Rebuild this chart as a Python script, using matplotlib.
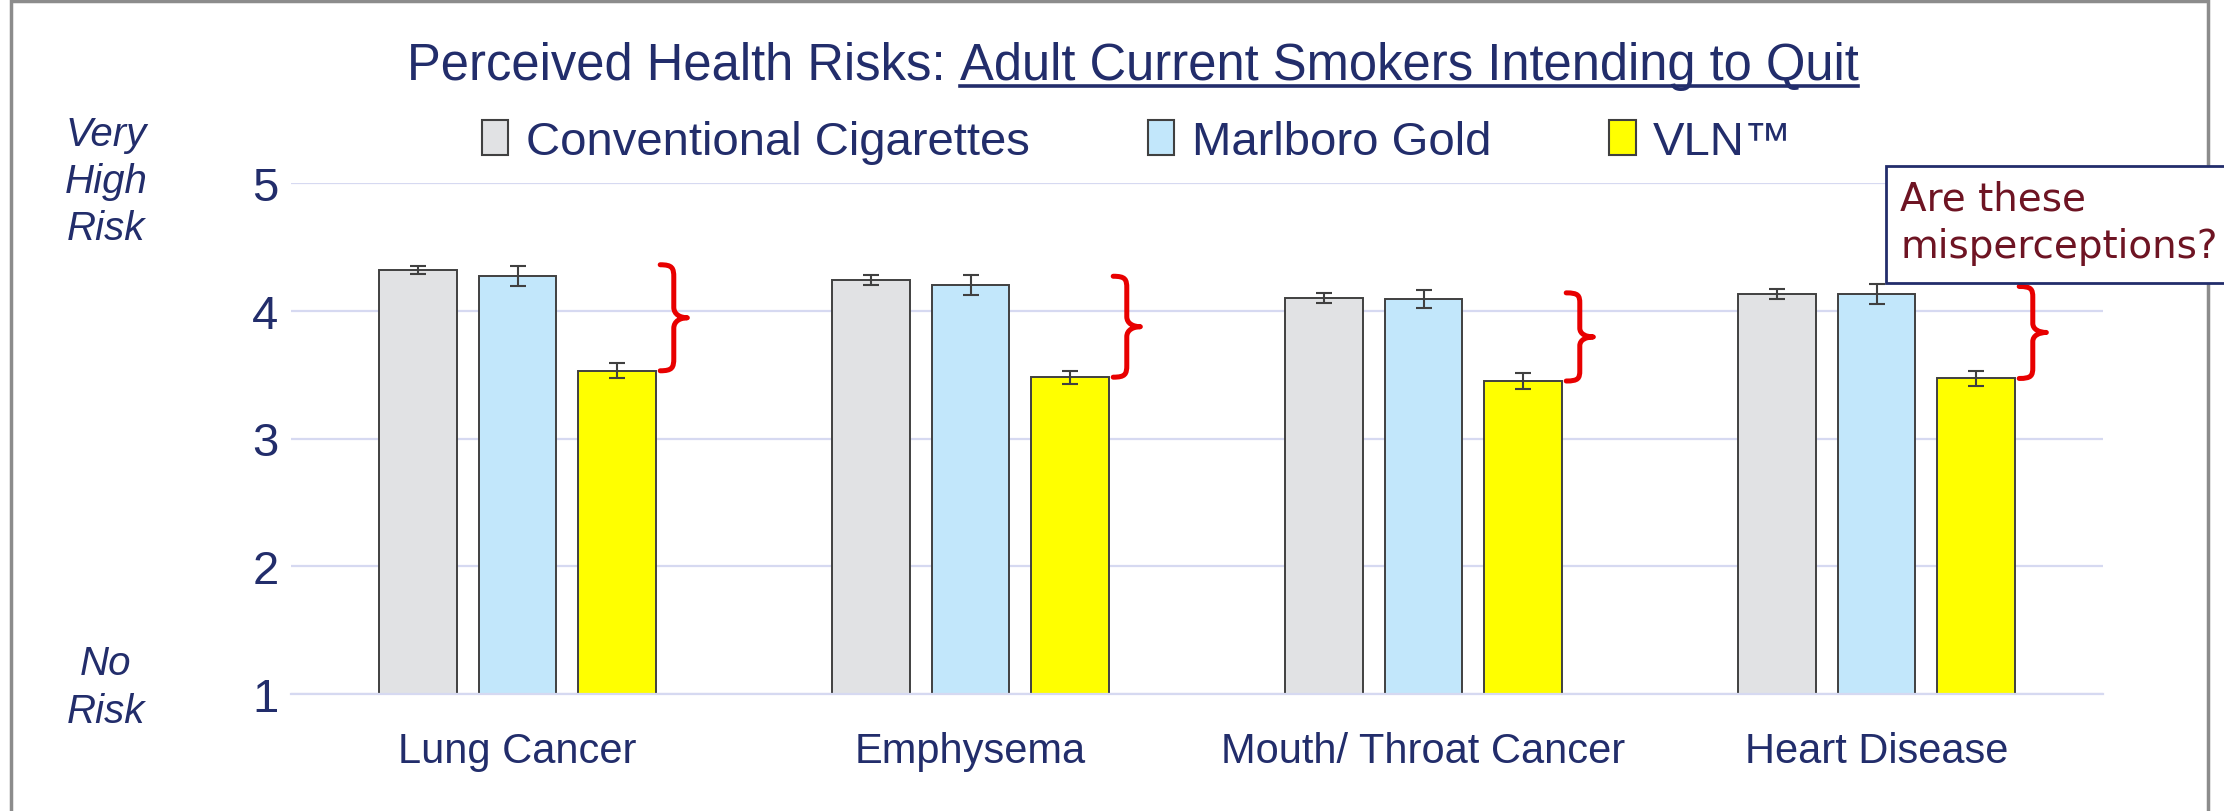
import matplotlib
matplotlib.use('Agg')
import matplotlib.pyplot as plt
from matplotlib.patches import Rectangle, PathPatch, Patch
from matplotlib.path import Path
from matplotlib.lines import Line2D
import numpy as np

plt.rcParams['font.family'] = ['Liberation Sans', 'DejaVu Sans']

# ---------------- data ----------------
categories = ['Lung Cancer', 'Emphysema', 'Mouth/ Throat Cancer', 'Heart Disease']
series_names = ['Conventional Cigarettes', 'Marlboro Gold', 'VLN\u2122']
conventional = [4.32, 4.24, 4.10, 4.13]
marlboro_gold = [4.27, 4.20, 4.09, 4.13]
vln = [3.53, 3.48, 3.45, 3.47]
conventional_err = [0.03, 0.04, 0.04, 0.04]
marlboro_gold_err = [0.08, 0.08, 0.07, 0.08]
vln_err = [0.06, 0.05, 0.06, 0.06]
brace_top = [4.36, 4.27, 4.14, 4.19]
y_ticks = [1, 2, 3, 4, 5]
title_plain = 'Perceived Health Risks:'
title_underlined = 'Adult Current Smokers Intending to Quit'
callout_text = 'Are these\nmisperceptions?'

# ---------------- style ----------------
navy = '#222D6B'
colors = ['#E1E2E4', '#C2E7FB', '#FFFF00']
edge = '#404040'
grid_c = '#D6D9F1'

W, H, DPI = 2224, 812, 100
fig = plt.figure(figsize=(W / DPI, H / DPI), dpi=DPI)
fig.patch.set_facecolor('white')

# slide frame
fig.add_artist(Rectangle((0.005, -0.1), 0.988, 1.097, transform=fig.transFigure,
                         fill=False, edgecolor='#8C8C8C', lw=2.5, zorder=0))

ax = fig.add_axes([291 / W, 1 - 695 / H, (2103 - 291) / W, (695 - 184) / H])
ax.set_xlim(-0.5, 3.5)
ax.set_ylim(1, 5)
for s in ax.spines.values():
    s.set_visible(False)
ax.set_yticks(y_ticks)
ax.yaxis.grid(True, color=grid_c, lw=1.6)
ax.set_axisbelow(True)
ax.axhline(1, color=grid_c, lw=1.6, zorder=5, clip_on=False)
ax.tick_params(axis='y', length=0, pad=9, labelsize=34, labelcolor=navy)
ax.set_xticks(range(len(categories)))
ax.set_xticklabels(categories)
ax.tick_params(axis='x', length=0, pad=27, labelsize=30, labelcolor=navy)

x = np.arange(len(categories))
offsets = [-0.219, 0.0, 0.219]
width = 0.172
series = [conventional, marlboro_gold, vln]
errs = [conventional_err, marlboro_gold_err, vln_err]
for off, vals, err, c in zip(offsets, series, errs, colors):
    ax.bar(x + off, vals, width=width, color=c, edgecolor=edge, linewidth=1.4, zorder=2)
    ax.errorbar(x + off, vals, yerr=err, fmt='none', ecolor=edge, elinewidth=1.5,
                capsize=6, capthick=1.5, zorder=3)

# braces
def brace(x0, ybot, ytop, w):
    h = ytop - ybot
    ym = (ytop + ybot) / 2
    xm = x0 + 0.5 * w
    verts = [
        (x0, ytop),
        (x0 + 0.45 * w, ytop), (xm, ytop - 0.03 * h), (xm, ytop - 0.12 * h),
        (xm, ym + 0.1 * h),
        (xm, ym + 0.03 * h), (x0 + 0.75 * w, ym), (x0 + w, ym),
        (x0 + 0.75 * w, ym), (xm, ym - 0.03 * h), (xm, ym - 0.1 * h),
        (xm, ybot + 0.12 * h),
        (xm, ybot + 0.03 * h), (x0 + 0.45 * w, ybot), (x0, ybot),
    ]
    codes = [Path.MOVETO,
             Path.CURVE4, Path.CURVE4, Path.CURVE4,
             Path.LINETO,
             Path.CURVE4, Path.CURVE4, Path.CURVE4,
             Path.CURVE4, Path.CURVE4, Path.CURVE4,
             Path.LINETO,
             Path.CURVE4, Path.CURVE4, Path.CURVE4]
    return PathPatch(Path(verts, codes), fill=False, edgecolor='#E80000', lw=3.6,
                     capstyle='round', joinstyle='round', zorder=4, clip_on=False)

for i in range(len(categories)):
    ax.add_patch(brace(x[i] + 0.315, vln[i], brace_top[i], 0.06))

# legend
handles = [Patch(facecolor=c, edgecolor=edge, linewidth=1.5) for c in colors]
fig.legend(handles, series_names, loc='center left', bbox_to_anchor=(482 / W, 1 - 143 / H),
           ncol=3, frameon=False, fontsize=34, labelcolor=navy, handlelength=0.56,
           handleheight=0.77, handletextpad=0.37, columnspacing=2.5, borderpad=0,
           borderaxespad=0)

# side labels
fig.text(106 / W, 1 - 182 / H, 'Very\nHigh\nRisk', ha='center', va='center',
         fontsize=29, style='italic', color=navy, linespacing=1.3)
fig.text(106 / W, 1 - 688 / H, 'No\nRisk', ha='center', va='center',
         fontsize=29, style='italic', color=navy, linespacing=1.35)

# title with underlined part
base_y = 1 - 80 / H
fs_title = 36.5
t1 = fig.text(407 / W, base_y, title_plain, fontsize=fs_title, color=navy, ha='left', va='baseline')
fig.canvas.draw()
r = fig.canvas.get_renderer()
bb1 = t1.get_window_extent(r)
space_px = fs_title * DPI / 72 * 0.278
t2 = fig.text((bb1.x1 + space_px) / W, base_y, title_underlined, fontsize=fs_title, color=navy,
              ha='left', va='baseline')
fig.canvas.draw()
bb2 = t2.get_window_extent(r)
uy = 1 - 87 / H
fig.add_artist(Line2D([bb2.x0 / W, bb2.x1 / W], [uy, uy], transform=fig.transFigure,
                      color=navy, lw=2.6))

# callout box
fig.add_artist(Rectangle((1886 / W, 1 - 284 / H), 0.2, (284 - 167) / H, transform=fig.transFigure,
                         facecolor='white', edgecolor=navy, lw=2, zorder=10))
fig.text(1900 / W, 1 - 223 / H, callout_text, ha='left', va='center', fontsize=28,
         color='#6E1423', family=['DejaVu Sans'], linespacing=1.3, zorder=11)

fig.savefig('out.png', dpi=DPI, facecolor='white')
